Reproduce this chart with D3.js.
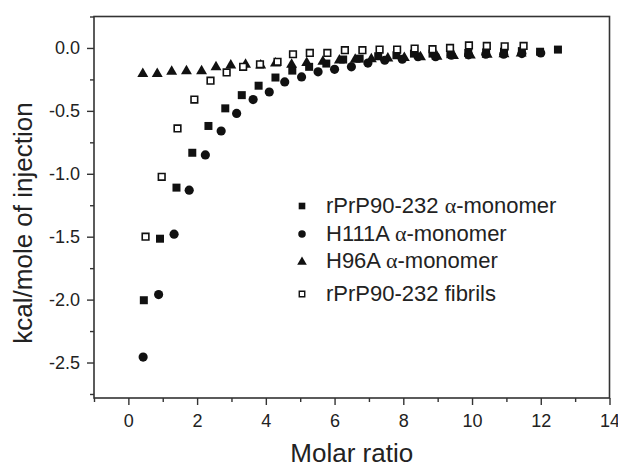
<!DOCTYPE html>
<html>
<head>
<meta charset="utf-8">
<script src="https://cdn.jsdelivr.net/npm/d3@7"></script>
<style>
  html, body { margin: 0; padding: 0; background: #fff; }
  svg { display: block; font-family: "Liberation Sans", Arial, sans-serif; }
</style>
</head>
<body>
<svg id="chart"></svg>
<script>
// rPrP90-232 alpha-monomer (filled squares)
const monoX = [0.45, 0.92, 1.40, 1.86, 2.33, 2.82, 3.30, 3.79, 4.28, 4.77, 5.26, 5.76, 6.25, 6.73, 7.27, 7.80, 8.31, 8.85, 9.37, 9.89, 10.41, 10.93, 11.45, 11.98, 12.50];
const monoY = [-2.005, -1.516, -1.11, -0.833, -0.62, -0.48, -0.375, -0.30, -0.235, -0.18, -0.15, -0.124, -0.092, -0.085, -0.066, -0.058, -0.045, -0.045, -0.05, -0.04, -0.035, -0.03, -0.025, -0.03, -0.013];
// H111A alpha-monomer (circles)
const h111X = [0.43, 0.88, 1.33, 1.77, 2.24, 2.70, 3.15, 3.63, 4.10, 4.55, 5.04, 5.52, 6.00, 6.49, 6.97, 7.46, 7.97, 8.43, 8.94, 9.40, 9.90, 10.40, 10.92, 11.45, 12.00];
const h111Y = [-2.457, -1.96, -1.48, -1.13, -0.85, -0.66, -0.52, -0.41, -0.35, -0.27, -0.23, -0.19, -0.17, -0.15, -0.12, -0.098, -0.09, -0.07, -0.07, -0.058, -0.055, -0.05, -0.05, -0.045, -0.04];
// H96A alpha-monomer (triangles)
const h96X = [0.42, 0.84, 1.26, 1.69, 2.13, 2.55, 2.98, 3.41, 3.85, 4.28, 4.75, 5.19, 5.66, 6.14, 6.60, 7.07, 7.55, 8.03, 8.50, 8.98, 9.46, 9.95, 10.44, 10.93, 11.43];
const h96Y = [-0.198, -0.198, -0.18, -0.175, -0.175, -0.145, -0.13, -0.125, -0.13, -0.115, -0.125, -0.11, -0.10, -0.09, -0.085, -0.08, -0.075, -0.07, -0.065, -0.06, -0.055, -0.05, -0.045, -0.04, -0.035];
// rPrP90-232 fibrils (open squares)
const fibX = [0.50, 0.97, 1.43, 1.92, 2.39, 2.86, 3.34, 3.83, 4.34, 4.79, 5.28, 5.79, 6.30, 6.81, 7.31, 7.82, 8.33, 8.85, 9.36, 9.91, 10.43, 10.95, 11.50];
const fibY = [-1.50, -1.024, -0.64, -0.41, -0.26, -0.195, -0.15, -0.13, -0.11, -0.05, -0.04, -0.04, -0.018, -0.018, -0.013, -0.013, -0.005, -0.01, 0.0, 0.02, 0.016, 0.013, 0.016];

const xTicks = [0, 2, 4, 6, 8, 10, 12, 14];
const xMinor = [-1, 1, 3, 5, 7, 9, 11, 13];
const yTicks = [0, -0.5, -1.0, -1.5, -2.0, -2.5];
const yMinor = [0.25, -0.25, -0.75, -1.25, -1.75, -2.25, -2.75];

const seriesNames = ["rPrP90-232", "H111A", "H96A", "rPrP90-232"];
const seriesSuffix = [" α-monomer", " α-monomer", " α-monomer", " fibrils"];

const width = 618, height = 468;
const margin = { left: 94, right: 609.5, top: 16.5, bottom: 398 };
const ink = "#222";

const svg = d3.select("#chart").attr("width", width).attr("height", height);
svg.append("rect").attr("width", width).attr("height", height).attr("fill", "#fff");

const x = d3.scaleLinear().domain([-1, 14]).range([margin.left, margin.right]);
const y = d3.scaleLinear().domain([-2.782, 0.25]).range([margin.bottom, margin.top]);

// frame
svg.append("rect")
  .attr("x", margin.left).attr("y", margin.top)
  .attr("width", margin.right - margin.left).attr("height", margin.bottom - margin.top)
  .attr("fill", "none").attr("stroke", "#333").attr("stroke-width", 1.6);

// axes
const styleAxis = (g) => {
  g.select(".domain").remove();
  g.selectAll(".tick line").attr("stroke", "#333").attr("stroke-width", 1.4);
  g.selectAll(".tick text").attr("fill", ink).style("font-size", "18px")
    .style("font-family", "'Liberation Sans', Arial, sans-serif");
};

svg.append("g").attr("transform", `translate(0,${margin.bottom})`)
  .call(d3.axisBottom(x).tickValues(xTicks).tickSize(7).tickPadding(9).tickFormat(d3.format("d")))
  .call(styleAxis);
svg.append("g").attr("transform", `translate(0,${margin.bottom})`)
  .call(d3.axisBottom(x).tickValues(xMinor).tickSize(4).tickFormat(""))
  .call(styleAxis);
svg.append("g").attr("transform", `translate(${margin.left},0)`)
  .call(d3.axisLeft(y).tickValues(yTicks).tickSize(7).tickPadding(7).tickFormat((d) => d.toFixed(1)))
  .call(styleAxis);
svg.append("g").attr("transform", `translate(${margin.left},0)`)
  .call(d3.axisLeft(y).tickValues(yMinor).tickSize(4).tickFormat(""))
  .call(styleAxis);

// axis titles
svg.append("text")
  .attr("x", (margin.left + margin.right) / 2).attr("y", 462)
  .attr("text-anchor", "middle").attr("fill", ink)
  .style("font-size", "26px")
  .text("Molar ratio");

svg.append("text")
  .attr("transform", "rotate(-90)")
  .attr("x", -223).attr("y", 32)
  .attr("text-anchor", "middle").attr("fill", ink)
  .style("font-size", "26px")
  .text("kcal/mole of injection");

// markers
const zip = (xs, ys) => xs.map((v, i) => ({ x: v, y: ys[i] }));
const symSquare = d3.symbol().type(d3.symbolSquare).size(64);
const symCircle = d3.symbol().type(d3.symbolCircle).size(66);
const symTri = d3.symbol().type(d3.symbolTriangle).size(52);
const symOpen = d3.symbol().type(d3.symbolSquare).size(44);

const plot = svg.append("g");

const drawSeries = (data, sym, fill, stroke, dy) => {
  plot.append("g").selectAll("path")
    .data(data)
    .join("path")
    .attr("transform", (d) => `translate(${x(d.x)},${y(d.y) + (dy || 0)})`)
    .attr("d", sym)
    .attr("fill", fill)
    .attr("stroke", stroke)
    .attr("stroke-width", stroke === "none" ? 0 : 1.6);
};

drawSeries(zip(monoX, monoY), symSquare, "#111", "none");
drawSeries(zip(h111X, h111Y), symCircle, "#111", "none");
drawSeries(zip(h96X, h96Y), symTri, "#111", "none", 1);
drawSeries(zip(fibX, fibY), symOpen, "#fff", "#111");

// legend
const legendSyms = [
  d3.symbol().type(d3.symbolSquare).size(44),
  d3.symbol().type(d3.symbolCircle).size(44),
  d3.symbol().type(d3.symbolTriangle).size(40),
  d3.symbol().type(d3.symbolSquare).size(30)
];
const legendY = [206, 234, 261, 294];
const legend = svg.append("g");
seriesNames.forEach((name, i) => {
  legend.append("path")
    .attr("transform", `translate(302,${legendY[i] + (i === 2 ? 1 : 0)})`)
    .attr("d", legendSyms[i])
    .attr("fill", i === 3 ? "#fff" : "#111")
    .attr("stroke", i === 3 ? "#111" : "none")
    .attr("stroke-width", 1.4);
  const t = legend.append("text")
    .attr("x", 326).attr("y", legendY[i] + 7)
    .attr("fill", ink)
    .style("font-size", "22px");
  t.append("tspan").text(name);
  if (i < 3) {
    t.append("tspan").text(" ");
    t.append("tspan").style("font-family", "'Liberation Serif', serif").style("font-size", "22px").text("α");
    t.append("tspan").text("-monomer");
  } else {
    t.append("tspan").text(seriesSuffix[i]);
  }
});
</script>
</body>
</html>
